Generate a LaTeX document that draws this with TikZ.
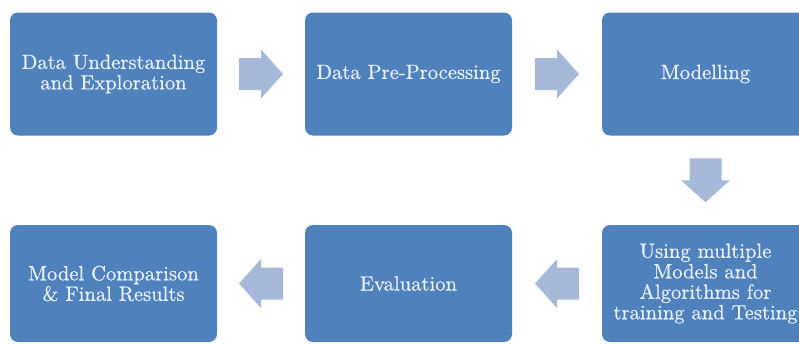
\documentclass[tikz,border=0pt]{standalone}
\usepackage{xcolor}
\usepackage{fontspec}
\usetikzlibrary{calc}

\newfontface\stagefont{lmroman10-regular.otf}[FakeBold=0.5]

\definecolor{boxblue}{RGB}{79,129,189}
\definecolor{arrowblue}{RGB}{167,185,216}
\definecolor{textwhite}{RGB}{236,242,250}

\tikzset{
  stage/.style={rectangle, rounded corners=8pt, fill=boxblue, text=textwhite,
    minimum width=207pt, inner sep=0pt, align=center,
    font=\stagefont\fontsize{20.6}{20.5}\selectfont},
  blockarrow/.pic={
    \fill[arrowblue] (-22,-16) -- (0,-16) -- (0,-24.5) -- (22,0)
      -- (0,24.5) -- (0,16) -- (-22,16) -- cycle;
  }
}

\begin{document}
\begin{tikzpicture}[x=1pt, y=-1pt]
    \useasboundingbox (0,0) rectangle (799,343);
    \clip (0,0) rectangle (799,343);

    % Top row of stages
    \node[stage, minimum height=123pt] (explore) at (113.5,74) {Data Understanding\\and Exploration};
    \node[stage, minimum height=123pt] (prep) at (408.5,74) {Data Pre-Processing};
    \node[stage, minimum height=123pt] (model) at (705.5,74) {Modelling};

    % Bottom row of stages
    \node[stage, minimum height=117pt] (multi) at (705.5,283.5) {Using multiple\\Models and\\Algorithms for\\training and Testing};
    \node[stage, minimum height=117pt] (eval) at (408.5,283.5) {Evaluation};
    \node[stage, minimum height=117pt] (final) at (113.5,283.5) {Model Comparison\\\& Final Results};

    % Block arrows between stages
    \pic at ($(explore.east)!0.5!(prep.west)$) {blockarrow};
    \pic at ($(prep.east)!0.5!(model.west)$) {blockarrow};
    \pic[rotate=-90] at ($(model.south)!0.5!(multi.north)$) {blockarrow};
    \pic[rotate=180] at ($(multi.west)!0.5!(eval.east)$) {blockarrow};
    \pic[rotate=180] at ($(eval.west)!0.5!(final.east)$) {blockarrow};
\end{tikzpicture}
\end{document}
